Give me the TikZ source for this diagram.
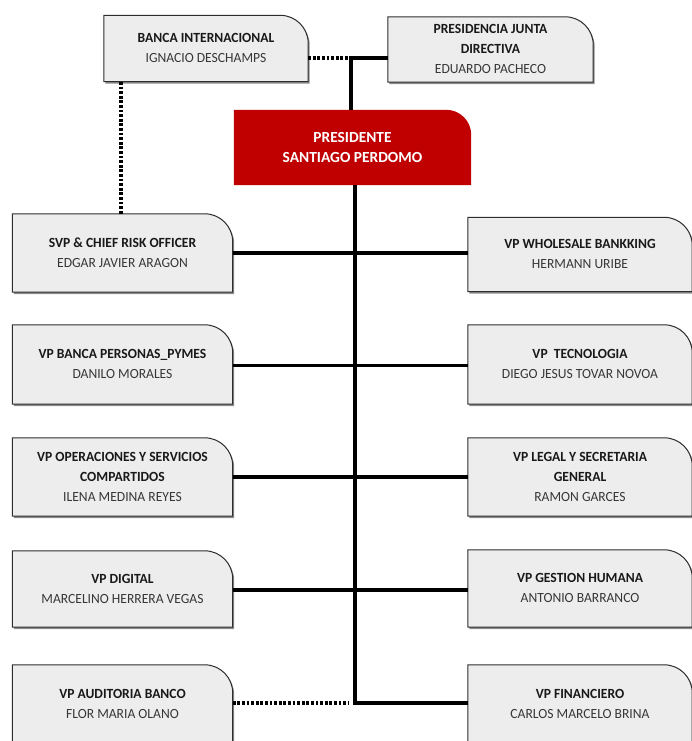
\documentclass[tikz,border=0pt]{standalone}
\usepackage{fontspec}
\setmainfont{Carlito}
\usetikzlibrary{backgrounds,shadows}
\definecolor{boxfill}{RGB}{237,237,237}
\definecolor{boxline}{RGB}{45,45,45}
\definecolor{titlecol}{RGB}{25,25,25}
\definecolor{namecol}{RGB}{55,55,55}
\definecolor{presred}{RGB}{192,0,0}
\newcommand\bxtext[2]{\scalebox{0.97}[1]{\begin{tabular}{@{}c@{}}#1\\\color{namecol}#2\end{tabular}}}
\newcommand\onecorner[2]{%
  \path[#2] (#1.south west) -- (#1.north west) -- ([xshift=-28pt]#1.north east)
    arc[start angle=90,end angle=0,radius=28pt] -- (#1.south east) -- cycle;}
\tikzset{
  orgbox/.style={rectangle,inner sep=0pt,minimum width=220pt,minimum height=78pt,
    font=\fontsize{14}{20}\selectfont,text=titlecol},
  rorgbox/.style={orgbox,minimum width=224pt},
  boxshape/.style={fill=boxfill,draw=boxline,line width=1pt,
    drop shadow={shadow xshift=1.5pt,shadow yshift=-2pt,opacity=0.45,fill=black}},
  solidline/.style={line width=3.3pt,black},
  dotline/.style={line width=3.3pt,black,dash pattern=on 2.8pt off 1.8pt},
}
\begin{document}
\begin{tikzpicture}[x=1pt,y=-1pt]
\useasboundingbox (0,0) rectangle (692,741);
\begin{scope}
\clip (0,0) rectangle (692,741);
% nodes
\node[orgbox,minimum width=204pt,minimum height=66pt] (bi) at (206,48.5)
  {\bxtext{\textbf{BANCA INTERNACIONAL}}{IGNACIO DESCHAMPS}};
\node[orgbox,minimum width=205pt,minimum height=65pt] (pjd) at (490.5,49.5)
  {\bxtext{\textbf{PRESIDENCIA JUNTA}\\\textbf{DIRECTIVA}}{EDUARDO PACHECO}};
\node[rectangle,inner sep=0pt,minimum width=237pt,minimum height=75pt,
  font=\fontsize{15.4}{20}\selectfont\bfseries,text=white,align=center] (pres) at (352.5,147.5)
  {PRESIDENTE\\SANTIAGO PERDOMO};
\node[orgbox] (svp) at (122.5,253) {\bxtext{\textbf{SVP \& CHIEF RISK OFFICER}}{EDGAR JAVIER ARAGON}};
\node[rorgbox,minimum height=74pt] (wb) at (580,254.5) {\bxtext{\textbf{VP WHOLESALE BANKKING}}{HERMANN URIBE}};
\node[orgbox,minimum height=79pt] (bp) at (122.5,364.5) {\bxtext{\textbf{VP BANCA PERSONAS\_PYMES}}{DANILO MORALES}};
\node[rorgbox,minimum height=79pt] (tec) at (580,364.5) {\bxtext{\textbf{VP\ \ TECNOLOGIA}}{DIEGO JESUS TOVAR NOVOA}};
\node[orgbox] (ops) at (122.5,477) {\bxtext{\textbf{VP OPERACIONES Y SERVICIOS}\\\textbf{COMPARTIDOS}}{ILENA MEDINA REYES}};
\node[rorgbox] (leg) at (580,477) {\bxtext{\textbf{VP LEGAL Y SECRETARIA}\\\textbf{GENERAL}}{RAMON GARCES}};
\node[orgbox,minimum height=76pt] (dig) at (122.5,589) {\bxtext{\textbf{VP DIGITAL}}{MARCELINO HERRERA VEGAS}};
\node[rorgbox,minimum height=77pt] (gh) at (580,588.5) {\bxtext{\textbf{VP GESTION HUMANA}}{ANTONIO BARRANCO}};
\node[orgbox] (aud) at (122.5,704) {\bxtext{\textbf{VP AUDITORIA BANCO}}{FLOR MARIA OLANO}};
\node[rorgbox] (fin) at (580,704) {\bxtext{\textbf{VP FINANCIERO}}{CARLOS MARCELO BRINA}};
% coordinates
\coordinate (j1) at (351,58);
\coordinate (j2) at (355,703);
\coordinate (d1) at (121,82);
\begin{scope}[on background layer]
\foreach \n in {bi,pjd,svp,wb,bp,tec,ops,leg,dig,gh,aud,fin}{\onecorner{\n}{boxshape}}
\path[fill=presred] (pres.south west) -- (pres.north west) -- ([xshift=-25pt]pres.north east)
  arc[start angle=90,end angle=0,radius=25pt] -- (pres.south east) -- cycle;
% connectors
\draw[solidline] (j1 -| pjd.west) -- (j1) -- (j1 |- pres.north);
\draw[dotline] (j1 -| bi.east) -- ([xshift=-3pt]j1);
\draw[dotline] (d1) -- (d1 |- svp.north);
\draw[solidline,line join=miter] (pres.south -| j2) -- (j2) -- (j2 -| fin.west);
\draw[dotline] (aud.east |- j2) -- ([xshift=-6pt]j2);
\draw[solidline] (svp.east) -- (svp.east -| wb.west);
\draw[solidline] ([yshift=-1pt]bp.east) -- ([yshift=-1pt]bp.east -| tec.west);
\draw[solidline] (ops.east) -- (ops.east -| leg.west);
\draw[solidline] ([yshift=-1pt]dig.east) -- ([yshift=-1pt]dig.east -| gh.west);
\end{scope}
\end{scope}
\end{tikzpicture}
\end{document}
